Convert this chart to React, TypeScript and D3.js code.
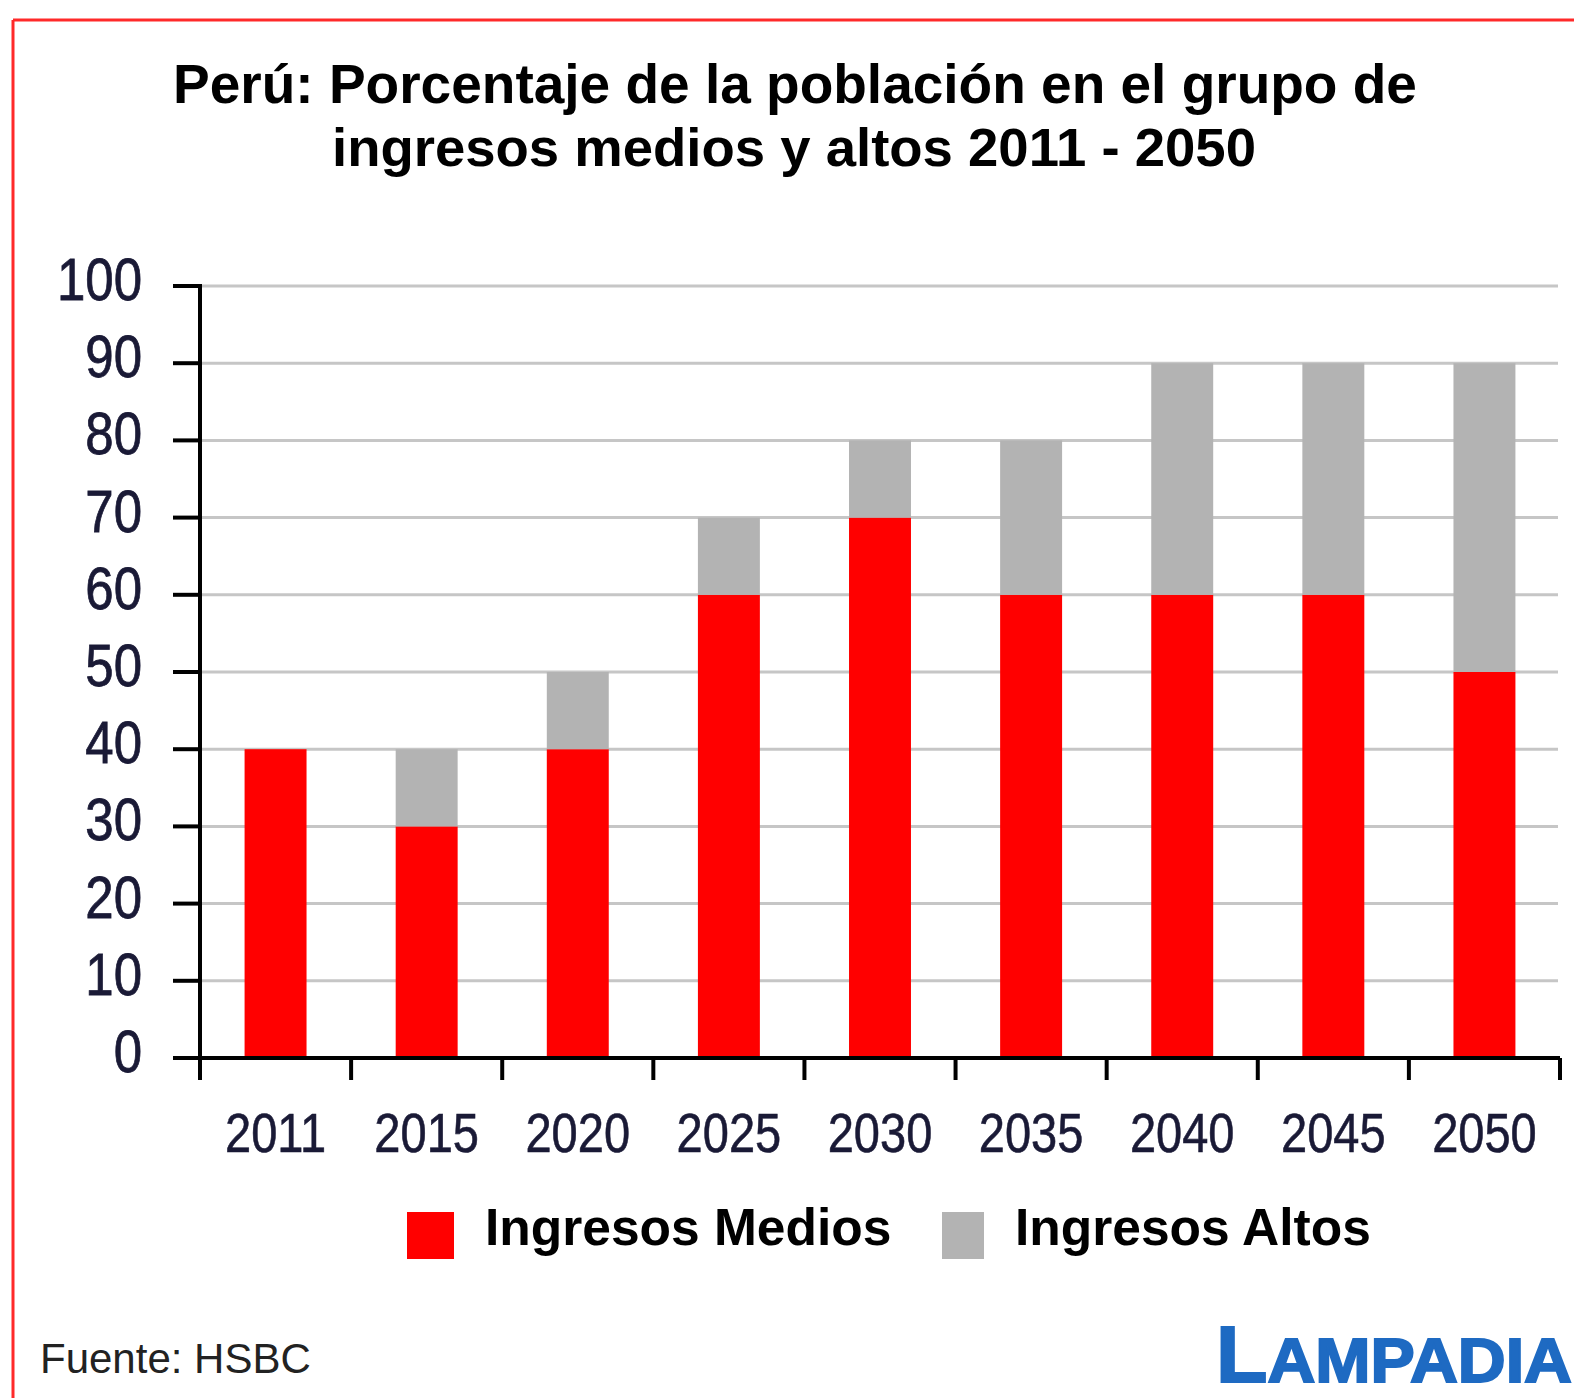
import React from 'react';
import * as d3 from 'd3';

const years = ['2011', '2015', '2020', '2025', '2030', '2035', '2040', '2045', '2050'];
const medios = [40, 30, 40, 60, 70, 60, 60, 60, 50];
const altos = [0, 10, 10, 10, 10, 20, 30, 30, 40];
const yTicks = [0, 10, 20, 30, 40, 50, 60, 70, 80, 90, 100];
const seriesNames = ['Ingresos Medios', 'Ingresos Altos'];
const seriesColors = ['#ff0000', '#b3b3b3'];

const W = 1574;
const H = 1398;
const FONT = '"Liberation Sans", Arial, sans-serif';

const App: React.FC = () => {
  const x = d3.scaleBand<string>()
    .domain(years)
    .range([200, 1560])
    .paddingInner(0.59)
    .paddingOuter(0.295);
  const step = x.step();
  const y = d3.scaleLinear().domain([0, 100]).range([1058, 286]);

  const stack = d3.stack<number>()
    .keys(['0', '1'])
    .value((i, k) => (k === '0' ? medios[i] : altos[i]));
  const layers = stack(years.map((_, i) => i));

  const x0 = 200;
  const x1 = 1560;

  return (
    <div style={{ position: 'absolute', left: 0, top: 0 }}>
      <svg width={W} height={H} style={{ display: 'block', background: '#fff' }}>
        {/* frame */}
        <line x1={13} y1={20} x2={W} y2={20} stroke="#ff2a2a" strokeWidth={3} />
        <line x1={13} y1={20} x2={13} y2={H} stroke="#ff2a2a" strokeWidth={3} />

        {/* title */}
        <text x={795} y={103} textAnchor="middle" fontFamily={FONT} fontWeight="bold" fontSize={55} fill="#000">
          Perú: Porcentaje de la población en el grupo de
        </text>
        <text x={794} y={166} textAnchor="middle" fontFamily={FONT} fontWeight="bold" fontSize={54.5} fill="#000">
          ingresos medios y altos 2011 - 2050
        </text>

        {/* grid */}
        {yTicks.filter(t => t > 0).map(t => (
          <line key={'g' + t} x1={x0} x2={1558} y1={y(t)} y2={y(t)} stroke="#c6c6c6" strokeWidth={3} />
        ))}

        {/* bars */}
        {layers.map((layer, li) => (
          <g key={'s' + li} fill={seriesColors[li]}>
            {layer.map((d, i) => (
              d[1] - d[0] > 0 ? (
                <rect key={i} x={x(years[i])} y={y(d[1])} width={x.bandwidth()} height={y(d[0]) - y(d[1])} />
              ) : null
            ))}
          </g>
        ))}

        {/* y axis */}
        <line x1={x0} x2={x0} y1={y(100) - 2} y2={1080} stroke="#000" strokeWidth={4} />
        {yTicks.map(t => (
          <g key={'y' + t}>
            <line x1={173} x2={x0} y1={y(t)} y2={y(t)} stroke="#000" strokeWidth={4} />
            <text transform={`translate(142,${y(t) + 14}) scale(0.85,1)`} textAnchor="end"
              fontFamily={FONT} fontSize={60} fill="#1a1a36" stroke="#1a1a36" strokeWidth={0.8}>{t}</text>
          </g>
        ))}

        {/* x axis */}
        <line x1={173} x2={x1} y1={y(0)} y2={y(0)} stroke="#000" strokeWidth={4} />
        {years.map((yr, i) => (
          <g key={'x' + yr}>
            <line x1={x0 + (i + 1) * step} x2={x0 + (i + 1) * step} y1={y(0)} y2={1080} stroke="#000" strokeWidth={4} />
            <text transform={`translate(${(x(yr) as number) + x.bandwidth() / 2},1152) scale(0.84,1)`} textAnchor="middle"
              fontFamily={FONT} fontSize={56} fill="#1a1a36" stroke="#1a1a36" strokeWidth={0.6}>{yr}</text>
          </g>
        ))}

        {/* legend */}
        <rect x={407} y={1212} width={47} height={47} fill={seriesColors[0]} />
        <text x={485} y={1245} fontFamily={FONT} fontWeight="bold" fontSize={51.5} fill="#000">{seriesNames[0]}</text>
        <rect x={942} y={1212} width={42} height={47} fill={seriesColors[1]} />
        <text x={1015} y={1245} fontFamily={FONT} fontWeight="bold" fontSize={51.5} fill="#000">{seriesNames[1]}</text>

        {/* source */}
        <text x={40} y={1373} fontFamily={FONT} fontSize={42} fill="#222">Fuente: HSBC</text>

        {/* logo */}
        <text x={1216} y={1382} fontFamily={FONT} fontWeight="bold" fill="#1e6ac2" stroke="#1e6ac2" strokeWidth={2}
          textLength={356} lengthAdjust="spacingAndGlyphs">
          <tspan fontSize={80}>L</tspan><tspan fontSize={63}>AMPADIA</tspan>
        </text>
      </svg>
    </div>
  );
};

export default App;
